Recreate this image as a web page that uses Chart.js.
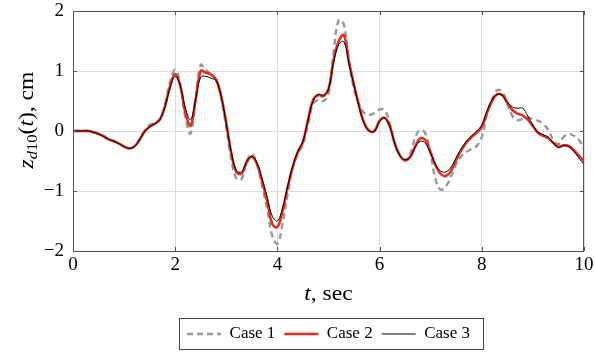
<!DOCTYPE html>
<html>
<head>
<meta charset="utf-8">
<script src="https://cdn.jsdelivr.net/npm/chart.js@4"></script>
<style>
  html, body { margin: 0; padding: 0; background: #fff; }
</style>
</head>
<body>
<canvas id="chart" width="595" height="354"></canvas>
<script>
const time = [0, 0.1, 0.2, 0.3, 0.4, 0.5, 0.6, 0.7, 0.8, 0.9,
  1, 1.1, 1.2, 1.3, 1.4, 1.5, 1.6, 1.7, 1.8, 1.9,
  2, 2.1, 2.2, 2.3, 2.4, 2.5, 2.6, 2.7, 2.8, 2.9,
  3, 3.1, 3.2, 3.3, 3.4, 3.5, 3.6, 3.7, 3.8, 3.9,
  4, 4.1, 4.2, 4.3, 4.4, 4.5, 4.6, 4.7, 4.8, 4.9,
  5, 5.1, 5.2, 5.3, 5.4, 5.5, 5.6, 5.7, 5.8, 5.9,
  6, 6.1, 6.2, 6.3, 6.4, 6.5, 6.6, 6.7, 6.8, 6.9,
  7, 7.1, 7.2, 7.3, 7.4, 7.5, 7.6, 7.7, 7.8, 7.9,
  8, 8.1, 8.2, 8.3, 8.4, 8.5, 8.6, 8.7, 8.8, 8.9,
  9, 9.1, 9.2, 9.3, 9.4, 9.5, 9.6, 9.7, 9.8, 9.9, 10];

const case1 = [0, 0, 0, 0, -0.02, -0.05, -0.09, -0.14, -0.17, -0.21,
  -0.26, -0.29, -0.26, -0.15, 0.0, 0.10, 0.14, 0.20, 0.45, 0.82,
  1.02, 0.78, 0.22, -0.04, 0.55, 1.10, 1.02, 0.95, 0.85, 0.55,
  0.05, -0.48, -0.80, -0.80, -0.50, -0.38, -0.55, -0.92, -1.30, -1.75,
  -1.88, -1.55, -1.05, -0.62, -0.38, -0.22, 0.12, 0.45, 0.52, 0.50,
  0.62, 1.32, 1.85, 1.78, 1.15, 0.70, 0.45, 0.30, 0.27, 0.30,
  0.36, 0.35, 0.12, -0.20, -0.42, -0.48, -0.38, -0.10, 0.02, -0.05,
  -0.40, -0.82, -0.98, -0.92, -0.75, -0.55, -0.42, -0.35, -0.30, -0.25,
  -0.10, 0.28, 0.52, 0.68, 0.65, 0.45, 0.25, 0.18, 0.20, 0.22,
  0.20, 0.17, 0.12, 0.02, -0.15, -0.22, -0.10, -0.05, -0.08, -0.15, -0.30];

const case2 = [0, 0, 0, 0, -0.02, -0.05, -0.09, -0.14, -0.17, -0.21,
  -0.26, -0.29, -0.26, -0.15, -0.01, 0.07, 0.12, 0.19, 0.41, 0.75,
  0.95, 0.75, 0.30, 0.09, 0.52, 1.00, 0.97, 0.94, 0.86, 0.58,
  0.13, -0.38, -0.69, -0.71, -0.52, -0.43, -0.55, -0.83, -1.17, -1.55,
  -1.60, -1.34, -0.94, -0.60, -0.35, -0.18, 0.19, 0.52, 0.60, 0.58,
  0.70, 1.18, 1.50, 1.60, 1.16, 0.77, 0.41, 0.13, 0.0, 0.0,
  0.17, 0.22, 0.08, -0.22, -0.41, -0.49, -0.43, -0.25, -0.12, -0.16,
  -0.36, -0.58, -0.72, -0.75, -0.66, -0.48, -0.32, -0.19, -0.10, -0.03,
  0.07, 0.30, 0.50, 0.61, 0.60, 0.47, 0.35, 0.29, 0.26, 0.19,
  0.08, -0.03, -0.08, -0.12, -0.20, -0.26, -0.24, -0.25, -0.32, -0.41, -0.50];

const case3 = [0, 0, 0, 0, -0.02, -0.05, -0.09, -0.14, -0.17, -0.21,
  -0.26, -0.29, -0.26, -0.15, -0.01, 0.07, 0.12, 0.19, 0.40, 0.72,
  0.91, 0.75, 0.38, 0.19, 0.52, 0.90, 0.91, 0.88, 0.84, 0.58,
  0.12, -0.36, -0.66, -0.68, -0.50, -0.42, -0.53, -0.80, -1.10, -1.42,
  -1.50, -1.28, -0.92, -0.58, -0.34, -0.17, 0.18, 0.50, 0.61, 0.60,
  0.70, 1.15, 1.44, 1.49, 1.12, 0.75, 0.40, 0.12, 0.0, 0.0,
  0.16, 0.21, 0.07, -0.22, -0.41, -0.48, -0.43, -0.27, -0.17, -0.21,
  -0.38, -0.57, -0.67, -0.68, -0.60, -0.44, -0.29, -0.17, -0.08, 0.0,
  0.10, 0.33, 0.52, 0.61, 0.59, 0.48, 0.40, 0.38, 0.38, 0.25,
  0.10, -0.02, -0.06, -0.10, -0.20, -0.28, -0.24, -0.26, -0.34, -0.45, -0.56];

const seriesNames = ["Case 1", "Case 2", "Case 3"];
const xTicks = [0, 2, 4, 6, 8, 10];
const yTicks = [-2, -1, 0, 1, 2];

const serif = "'Liberation Serif', 'DejaVu Serif', serif";
const pts = (vals) => time.map((t, i) => ({ x: t, y: vals[i] }));

// mixed italic / upright text runs, stretched a little to look like CM
function drawRuns(ctx, parts, cx, cy, stretch) {
  let w = 0;
  parts.forEach((p) => { ctx.font = p.font; w += ctx.measureText(p.text).width; });
  ctx.save();
  ctx.translate(cx, cy);
  ctx.scale(stretch, 1);
  let px = -w / 2;
  parts.forEach((p) => {
    ctx.font = p.font;
    ctx.fillText(p.text, px, p.dy || 0);
    px += ctx.measureText(p.text).width;
  });
  ctx.restore();
}

// keep tick labels from pushing the plot area around
const noPad = (s) => {
  s.paddingTop = 0; s.paddingBottom = 0;
  s.paddingLeft = 0; s.paddingRight = 0;
};

const decorations = {
  id: "decorations",
  afterLayout(chart) {
    // center the legend under the plot area, not the canvas
    chart.legend.left = chart.chartArea.left;
    chart.legend.right = chart.chartArea.right;
  },
  afterDatasetsDraw(chart) {
    const { ctx, chartArea: a, scales: { x, y } } = chart;
    ctx.save();
    ctx.strokeStyle = "#555";
    ctx.lineWidth = 1;
    ctx.beginPath();
    xTicks.forEach((v) => {
      const px = Math.round(x.getPixelForValue(v)) + 0.5;
      ctx.moveTo(px, a.bottom); ctx.lineTo(px, a.bottom - 4);
      ctx.moveTo(px, a.top); ctx.lineTo(px, a.top + 4);
    });
    yTicks.forEach((v) => {
      const py = Math.round(y.getPixelForValue(v)) + 0.5;
      ctx.moveTo(a.left, py); ctx.lineTo(a.left + 4, py);
      ctx.moveTo(a.right, py); ctx.lineTo(a.right - 4, py);
    });
    ctx.stroke();
    ctx.strokeRect(Math.round(a.left) + 0.5, Math.round(a.top) + 0.5,
      Math.round(a.width) - 1, Math.round(a.height));
    ctx.restore();
  },
  afterDraw(chart) {
    const { ctx, chartArea: a } = chart;
    ctx.save();
    ctx.fillStyle = "#000";
    ctx.textBaseline = "alphabetic";
    drawRuns(ctx, [
      { text: "t", font: "italic 20px " + serif },
      { text: ", sec", font: "20px " + serif },
    ], (a.left + a.right) / 2, 300, 1.18);

    ctx.translate(33, 120);
    ctx.rotate(-Math.PI / 2);
    drawRuns(ctx, [
      { text: "z", font: "italic 20px " + serif },
      { text: "d", font: "italic 14px " + serif, dy: 4 },
      { text: "10", font: "14px " + serif, dy: 4 },
      { text: "(", font: "20px " + serif },
      { text: "t", font: "italic 20px " + serif },
      { text: "), cm", font: "20px " + serif },
    ], 0, 0, 1.18);
    ctx.restore();

    // legend frame
    const boxes = chart.legend.legendHitBoxes;
    if (boxes && boxes.length) {
      const l = Math.min(...boxes.map((b) => b.left)) - 8;
      const r = Math.max(...boxes.map((b) => b.left + b.width)) + 13;
      const cy = boxes[0].top + boxes[0].height / 2;
      ctx.save();
      ctx.strokeStyle = "#444";
      ctx.lineWidth = 1;
      ctx.strokeRect(Math.round(l) + 0.5, Math.round(cy - 16) + 0.5, Math.round(r - l), 31);
      ctx.restore();
    }
  },
};

new Chart(document.getElementById("chart"), {
  type: "line",
  data: {
    datasets: [
      {
        label: seriesNames[0],
        data: pts(case1),
        borderColor: "#999999",
        borderWidth: 2.4,
        borderDash: [6, 4],
        order: 3,
      },
      {
        label: seriesNames[1],
        data: pts(case2),
        borderColor: "#e3301f",
        borderWidth: 2.6,
        order: 2,
      },
      {
        label: seriesNames[2],
        data: pts(case3),
        borderColor: "#000000",
        borderWidth: 1,
        order: 1,
      },
    ],
  },
  options: {
    responsive: false,
    animation: false,
    events: [],
    layout: { autoPadding: false, padding: { left: 0, top: 11, right: 11, bottom: 1.5 } },
    elements: {
      point: { radius: 0 },
      line: { tension: 0.4, fill: false },
    },
    scales: {
      x: {
        type: "linear",
        min: 0,
        max: 10,
        afterBuildTicks: (s) => { s.ticks = xTicks.map((v) => ({ value: v })); },
        afterFit: (s) => { s.height = 65.5; noPad(s); },
        ticks: { color: "#000", font: { family: serif, size: 19 }, padding: 3 },
        grid: { color: "#dcdcdc", lineWidth: 1, drawTicks: false },
        border: { display: false },
      },
      y: {
        min: -2,
        max: 2,
        afterBuildTicks: (s) => { s.ticks = yTicks.map((v) => ({ value: v })); },
        afterFit: (s) => { s.width = 73; noPad(s); },
        ticks: {
          color: "#000",
          font: { family: serif, size: 19 },
          padding: 9,
          callback: (v) => String(v).replace("-", "\u2212"),
        },
        grid: { color: "#dcdcdc", lineWidth: 1, drawTicks: false },
        border: { display: false },
      },
    },
    plugins: {
      legend: {
        position: "bottom",
        labels: {
          usePointStyle: true,
          pointStyle: "line",
          pointStyleWidth: 34,
          padding: 9,
          color: "#000",
          font: { family: serif, size: 17 },
          sort: (a, b) => a.datasetIndex - b.datasetIndex,
          generateLabels: (chart) =>
            Chart.defaults.plugins.legend.labels.generateLabels(chart).map((item) => ({
              ...item,
              lineDash: chart.data.datasets[item.datasetIndex].borderDash || [],
            })),
        },
      },
      tooltip: { enabled: false },
    },
  },
  plugins: [decorations],
});
</script>
</body>
</html>
